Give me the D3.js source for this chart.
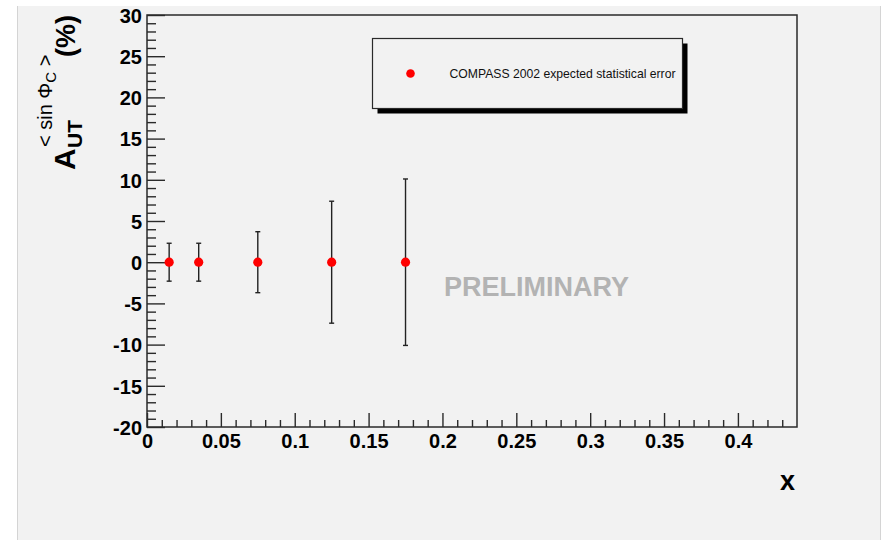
<!DOCTYPE html>
<html>
<head>
<meta charset="utf-8">
<script src="https://cdn.jsdelivr.net/npm/d3@7"></script>
<style>
  html, body { margin: 0; padding: 0; background: #ffffff; }
  svg { display: block; }
  text { font-family: "Liberation Sans", Arial, Helvetica, sans-serif; }
</style>
</head>
<body>
<svg id="chart" width="884" height="540"></svg>
<script>
// ---- data ----
const xValues = [0.015, 0.035, 0.075, 0.125, 0.175];
const asymValues = [0, 0, 0, 0, 0];
const statErrors = [2.3, 2.3, 3.7, 7.4, 10.1];
const xMajorTicks = [0, 0.05, 0.1, 0.15, 0.2, 0.25, 0.3, 0.35, 0.4];
const yMajorTicks = [-20, -15, -10, -5, 0, 5, 10, 15, 20, 25, 30];
const legendLabel = "COMPASS 2002 expected statistical error";
const watermark = "PRELIMINARY";

// ---- layout ----
const W = 884, H = 540;
const frame = { left: 147, right: 797, top: 15, bottom: 427 };
const svg = d3.select("#chart");

// canvas panel
svg.append("rect").attr("x", 17).attr("y", 6).attr("width", 864).attr("height", H - 6)
  .attr("fill", "#f2f2f2");
svg.append("line").attr("x1", 17.5).attr("x2", 17.5).attr("y1", 6).attr("y2", H)
  .attr("stroke", "#d4d4d4").attr("stroke-width", 1);
svg.append("line").attr("x1", 880.5).attr("x2", 880.5).attr("y1", 6).attr("y2", H)
  .attr("stroke", "#d4d4d4").attr("stroke-width", 1);

const x = d3.scaleLinear().domain([0, 0.44]).range([frame.left, frame.right]);
const y = d3.scaleLinear().domain([-20, 30]).range([frame.bottom, frame.top]);

// frame box
svg.append("rect")
  .attr("x", frame.left).attr("y", frame.top)
  .attr("width", frame.right - frame.left).attr("height", frame.bottom - frame.top)
  .attr("fill", "none").attr("stroke", "#2a2a2a").attr("stroke-width", 1.5);

// x minor ticks
const xMinor = d3.range(0, 44).map(i => i / 100).filter(v => !xMajorTicks.some(m => Math.abs(m - v) < 1e-9));
svg.append("g").attr("transform", `translate(0,${frame.bottom})`)
  .call(d3.axisBottom(x).tickValues(xMinor).tickSize(-7).tickFormat(""))
  .call(g => g.select(".domain").remove())
  .call(g => g.selectAll("line").attr("stroke", "#2a2a2a").attr("stroke-width", 1.4));
// x major ticks + labels
svg.append("g").attr("transform", `translate(0,${frame.bottom})`)
  .call(d3.axisBottom(x).tickValues(xMajorTicks).tickSize(-14).tickPadding(0)
    .tickFormat(d => String(+d.toFixed(2))))
  .call(g => g.select(".domain").remove())
  .call(g => g.selectAll("line").attr("stroke", "#2a2a2a").attr("stroke-width", 1.4))
  .call(g => g.selectAll("text").attr("y", 21).attr("dy", null)
    .attr("font-size", 20).attr("font-weight", "bold").attr("fill", "#000")
    .attr("font-family", "'Liberation Sans', Arial, sans-serif"));

// y minor ticks
const yMinor = d3.range(-20, 31).filter(v => v % 5 !== 0);
svg.append("g").attr("transform", `translate(${frame.left},0)`)
  .call(d3.axisLeft(y).tickValues(yMinor).tickSize(-9).tickFormat(""))
  .call(g => g.select(".domain").remove())
  .call(g => g.selectAll("line").attr("stroke", "#2a2a2a").attr("stroke-width", 1.4));
// y major ticks + labels
svg.append("g").attr("transform", `translate(${frame.left},0)`)
  .call(d3.axisLeft(y).tickValues(yMajorTicks).tickSize(-18).tickPadding(0).tickFormat(d => String(d)))
  .call(g => g.select(".domain").remove())
  .call(g => g.selectAll("line").attr("stroke", "#2a2a2a").attr("stroke-width", 1.4))
  .call(g => g.selectAll("text").attr("x", -5).attr("dy", "0.36em")
    .attr("font-size", 20).attr("font-weight", "bold").attr("fill", "#000")
    .attr("font-family", "'Liberation Sans', Arial, sans-serif"));

// watermark
svg.append("text").attr("x", x(0.2636)).attr("y", y(-4.05))
  .attr("text-anchor", "middle").attr("font-size", 27).attr("font-weight", "bold")
  .attr("fill", "#b3b3b3").text(watermark);

// error bars
const pts = xValues.map((v, i) => ({ x: v, y: asymValues[i], e: statErrors[i] }));
const eb = svg.append("g").attr("stroke", "#222").attr("stroke-width", 1.4);
eb.selectAll("line.v").data(pts).join("line").attr("class", "v")
  .attr("x1", d => x(d.x)).attr("x2", d => x(d.x))
  .attr("y1", d => y(d.y + d.e)).attr("y2", d => y(d.y - d.e));
eb.selectAll("line.t").data(pts).join("line").attr("class", "t")
  .attr("x1", d => x(d.x) - 2.5).attr("x2", d => x(d.x) + 2.5)
  .attr("y1", d => y(d.y + d.e)).attr("y2", d => y(d.y + d.e));
eb.selectAll("line.b").data(pts).join("line").attr("class", "b")
  .attr("x1", d => x(d.x) - 2.5).attr("x2", d => x(d.x) + 2.5)
  .attr("y1", d => y(d.y - d.e)).attr("y2", d => y(d.y - d.e));

// markers
svg.append("g").selectAll("circle").data(pts).join("circle")
  .attr("cx", d => x(d.x)).attr("cy", d => y(d.y)).attr("r", 4.6).attr("fill", "#ff0000");

// legend
const lg = { x: 372.5, y: 38.5, w: 310, h: 70 };
svg.append("rect").attr("x", lg.x + 5).attr("y", lg.y + 5).attr("width", lg.w).attr("height", lg.h).attr("fill", "#000");
svg.append("rect").attr("x", lg.x).attr("y", lg.y).attr("width", lg.w).attr("height", lg.h)
  .attr("fill", "#f2f2f2").attr("stroke", "#2a2a2a").attr("stroke-width", 1.2);
svg.append("circle").attr("cx", lg.x + 38).attr("cy", lg.y + 35).attr("r", 4.3).attr("fill", "#ff0000");
svg.append("text").attr("x", lg.x + 77).attr("y", lg.y + 39.5)
  .attr("font-size", 12.2).attr("fill", "#111").text(legendLabel);

// x axis title
svg.append("text").attr("x", 795).attr("y", 490).attr("text-anchor", "end")
  .attr("font-size", 27).attr("font-weight", "bold").attr("fill", "#000").text("x");

// y axis title (rotated)
const yt = svg.append("g").attr("transform", "translate(75,170) rotate(-90)");
yt.append("text").attr("x", 0).attr("y", 0).attr("font-size", 30).attr("font-weight", "bold").text("A");
yt.append("text").attr("x", 22).attr("y", 7).attr("font-size", 21).attr("font-weight", "bold").text("UT");
const sup = yt.append("text").attr("x", 23).attr("y", -23).attr("font-size", 20).attr("fill", "#000");
sup.append("tspan").text("< sin Φ");
sup.append("tspan").attr("dy", 4).attr("font-size", 15).text("C");
sup.append("tspan").attr("dy", -4).text(" >");
yt.append("text").attr("x", 113).attr("y", 0).attr("font-size", 27).attr("font-weight", "bold").text("(%)");
</script>
</body>
</html>
